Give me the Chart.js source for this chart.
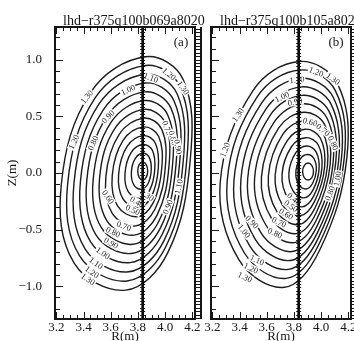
<!DOCTYPE html>
<html>
<head>
<meta charset="utf-8">
<script src="https://cdn.jsdelivr.net/npm/chart.js@4.4.1/dist/chart.umd.min.js"></script>
<style>
  html, body { margin: 0; padding: 0; background: #fff; }
  #wrap { position: relative; width: 354px; height: 341px; overflow: hidden; }
  #wrap canvas { position: absolute; left: 0; top: 0; }
</style>
</head>
<body>
<div id="wrap">
  <canvas id="panelA" width="354" height="341"></canvas>
  <canvas id="panelB" width="354" height="341"></canvas>
</div>
<script>
// contour levels and axis ticks
var levels = [0.1, 0.2, 0.3, 0.4, 0.5, 0.6, 0.7, 0.8, 0.9, 1.0, 1.1, 1.2, 1.3];
var rTicks = [3.2, 3.4, 3.6, 3.8, 4.0, 4.2];
var zTicks = [-1.0, -0.5, 0.0, 0.5, 1.0];
var axisLineR = 3.835;   // thick vertical line, both panels

// points, in this order:
// top, upper-right, right, lower-right, bottom, lower-left, left, upper-left
var ringsA_R = [
  [3.835, 3.861, 3.872, 3.861, 3.835, 3.809, 3.799, 3.809],
  [3.837, 3.884, 3.898, 3.874, 3.825, 3.769, 3.752, 3.780],
  [3.839, 3.907, 3.924, 3.887, 3.814, 3.729, 3.705, 3.750],
  [3.841, 3.929, 3.950, 3.900, 3.804, 3.690, 3.658, 3.721],
  [3.842, 3.952, 3.976, 3.913, 3.794, 3.650, 3.611, 3.691],
  [3.844, 3.975, 4.002, 3.926, 3.783, 3.610, 3.564, 3.662],
  [3.846, 3.998, 4.029, 3.940, 3.773, 3.570, 3.518, 3.632],
  [3.848, 4.020, 4.055, 3.953, 3.763, 3.530, 3.471, 3.603],
  [3.850, 4.043, 4.081, 3.966, 3.752, 3.490, 3.424, 3.573],
  [3.852, 4.066, 4.107, 3.979, 3.742, 3.451, 3.377, 3.544],
  [3.853, 4.089, 4.133, 3.992, 3.732, 3.411, 3.330, 3.514],
  [3.855, 4.111, 4.159, 4.005, 3.721, 3.371, 3.283, 3.485],
  [3.857, 4.134, 4.185, 4.018, 3.711, 3.331, 3.236, 3.455]
];
var ringsA_Z = [
  [0.097, 0.074, 0.018, -0.039, -0.062, -0.039, 0.018, 0.074],
  [0.175, 0.136, 0.026, -0.095, -0.143, -0.102, 0.008, 0.128],
  [0.252, 0.199, 0.034, -0.151, -0.224, -0.165, -0.003, 0.181],
  [0.330, 0.261, 0.042, -0.206, -0.305, -0.228, -0.013, 0.235],
  [0.407, 0.324, 0.050, -0.262, -0.386, -0.291, -0.023, 0.288],
  [0.485, 0.386, 0.058, -0.318, -0.467, -0.354, -0.034, 0.342],
  [0.562, 0.449, 0.067, -0.374, -0.549, -0.418, -0.044, 0.396],
  [0.640, 0.511, 0.075, -0.429, -0.630, -0.481, -0.054, 0.449],
  [0.717, 0.573, 0.083, -0.485, -0.711, -0.544, -0.065, 0.503],
  [0.795, 0.636, 0.091, -0.541, -0.792, -0.607, -0.075, 0.556],
  [0.872, 0.698, 0.099, -0.597, -0.873, -0.670, -0.085, 0.610],
  [0.950, 0.761, 0.107, -0.652, -0.954, -0.733, -0.096, 0.663],
  [1.027, 0.823, 0.115, -0.708, -1.035, -0.796, -0.106, 0.717]
];
var ringsB_R = [
  [3.904, 3.932, 3.944, 3.932, 3.904, 3.876, 3.864, 3.876],
  [3.899, 3.948, 3.965, 3.937, 3.890, 3.836, 3.814, 3.845],
  [3.893, 3.963, 3.985, 3.942, 3.875, 3.796, 3.763, 3.813],
  [3.888, 3.979, 4.006, 3.947, 3.861, 3.756, 3.713, 3.782],
  [3.883, 3.995, 4.026, 3.951, 3.846, 3.716, 3.662, 3.751],
  [3.877, 4.010, 4.047, 3.956, 3.832, 3.676, 3.612, 3.719],
  [3.872, 4.026, 4.067, 3.961, 3.817, 3.637, 3.561, 3.688],
  [3.867, 4.042, 4.088, 3.966, 3.803, 3.597, 3.511, 3.657],
  [3.861, 4.057, 4.108, 3.971, 3.788, 3.557, 3.460, 3.625],
  [3.856, 4.073, 4.129, 3.976, 3.774, 3.517, 3.410, 3.594],
  [3.851, 4.089, 4.149, 3.980, 3.759, 3.477, 3.359, 3.563],
  [3.845, 4.104, 4.170, 3.985, 3.745, 3.437, 3.309, 3.531],
  [3.840, 4.120, 4.190, 3.990, 3.730, 3.397, 3.258, 3.500]
];
var ringsB_Z = [
  [0.088, 0.066, 0.013, -0.040, -0.062, -0.040, 0.013, 0.066],
  [0.163, 0.126, 0.024, -0.093, -0.141, -0.101, 0.005, 0.121],
  [0.238, 0.187, 0.034, -0.147, -0.220, -0.162, -0.003, 0.177],
  [0.312, 0.247, 0.045, -0.200, -0.299, -0.223, -0.010, 0.232],
  [0.387, 0.307, 0.055, -0.253, -0.378, -0.283, -0.018, 0.287],
  [0.462, 0.368, 0.066, -0.307, -0.457, -0.344, -0.026, 0.343],
  [0.537, 0.428, 0.077, -0.360, -0.536, -0.405, -0.034, 0.398],
  [0.611, 0.488, 0.087, -0.413, -0.615, -0.466, -0.041, 0.453],
  [0.686, 0.549, 0.098, -0.467, -0.694, -0.527, -0.049, 0.509],
  [0.761, 0.609, 0.108, -0.520, -0.773, -0.588, -0.057, 0.564],
  [0.836, 0.669, 0.119, -0.573, -0.852, -0.648, -0.065, 0.619],
  [0.910, 0.730, 0.129, -0.627, -0.931, -0.709, -0.072, 0.675],
  [0.985, 0.790, 0.140, -0.680, -1.010, -0.770, -0.080, 0.730]
];

// contour labels: level, R, Z, text angle (deg)
var labelsA = [
  [1.3, 3.425, 0.673, -50], [1.2, 3.330, 0.274, -65], [1.0, 3.727, 0.735, -25],
  [0.9, 3.580, 0.496, -45], [0.8, 3.470, 0.265, -65], [1.1, 3.895, 0.841, 20],
  [1.2, 4.029, 0.876, 40], [1.3, 4.132, 0.752, 55],
  [0.7, 4.014, 0.398, 70], [0.8, 4.058, 0.310, 75], [0.9, 4.095, 0.230, 80],
  [0.6, 3.580, -0.212, 55], [0.5, 3.763, -0.327, 25], [0.4, 3.793, -0.257, 30],
  [0.3, 3.866, -0.195, 35], [0.7, 3.698, -0.469, 20], [0.8, 3.617, -0.522, 25],
  [0.9, 3.603, -0.619, 30], [1.0, 3.543, -0.708, 35], [1.1, 3.492, -0.796, 35],
  [1.2, 3.462, -0.876, 35], [1.3, 3.433, -0.938, 35],
  [0.9, 4.020, -0.300, -68], [1.1, 4.100, -0.120, -78]
];
var labelsB = [
  [1.3, 3.389, 0.513, -55], [1.2, 3.293, 0.204, -70], [1.0, 3.712, 0.673, -25],
  [0.9, 3.808, 0.628, -10], [1.1, 3.823, 0.823, -5], [1.2, 3.963, 0.894, 20],
  [1.3, 4.088, 0.832, 35], [0.6, 3.919, 0.451, 15], [0.7, 4.014, 0.381, 40],
  [0.8, 4.088, 0.265, 65], [0.9, 3.492, -0.434, 45], [1.0, 3.433, -0.513, 50],
  [0.7, 3.691, -0.434, 25], [0.8, 3.661, -0.531, 25], [0.6, 3.742, -0.363, 30],
  [0.5, 3.779, -0.292, 35], [0.4, 3.801, -0.230, 40], [1.1, 3.529, -0.770, 25],
  [1.2, 3.484, -0.841, 25], [1.3, 3.440, -0.920, 25],
  [0.8, 4.066, -0.180, -70], [1.0, 4.120, -0.050, -80]
];

var R_MIN = 3.19, R_MAX = 4.22, Z_MIN = -1.29, Z_MAX = 1.29;
var SERIF = '"Liberation Serif", "Times New Roman", serif';
var INK = '#161616';

// closed loop: repeat neighbours so every visible piece gets a smooth spline
var LOOP = [7, 0, 1, 2, 3, 4, 5, 6, 7, 0, 1];

function ringDatasets(ringsR, ringsZ) {
  var sets = ringsR.map(function (rr, k) {
    var pts = LOOP.map(function (j) { return {x: rr[j], y: ringsZ[k][j]}; });
    var last = pts.length - 1;
    return {
      label: levels[k].toFixed(2),
      data: pts,
      showLine: true,
      borderColor: '#1c1c1c',
      borderWidth: 1.4,
      pointRadius: 0,
      tension: 0.38,
      order: 1,
      segment: {
        borderColor: function (ctx) {
          return (ctx.p0DataIndex === 0 || ctx.p1DataIndex === last) ? 'rgba(0,0,0,0)' : undefined;
        }
      }
    };
  });
  sets.push({
    label: 'R axis',
    data: [{x: axisLineR, y: Z_MIN}, {x: axisLineR, y: Z_MAX}],
    showLine: true,
    borderColor: '#000',
    borderWidth: 2.6,
    pointRadius: 0,
    order: 0
  });
  return sets;
}

function panelDeco(cfg) {
  return {
    id: 'deco' + cfg.tag,
    beforeDatasetDraw: function (chart, args) {
      if (args.index !== levels.length) return;
      //contour labels go under the vertical line
      var ctx = chart.ctx, xs = chart.scales.x, ys = chart.scales.y, a = chart.chartArea;
      ctx.save();
      ctx.beginPath();
      ctx.rect(a.left, a.top, a.right - a.left, a.bottom - a.top);
      ctx.clip();
      ctx.font = '8.5px ' + SERIF;
      ctx.textAlign = 'center';
      ctx.textBaseline = 'middle';
      cfg.labels.forEach(function (l) {
        var txt = l[0].toFixed(2);
        var w = ctx.measureText(txt).width;
        ctx.save();
        ctx.translate(xs.getPixelForValue(l[1]), ys.getPixelForValue(l[2]));
        ctx.rotate(l[3] * Math.PI / 180);
        ctx.fillStyle = '#fff';
        ctx.fillRect(-w / 2 - 1, -4, w + 2, 8);
        ctx.fillStyle = '#222';
        ctx.fillText(txt, 0, 0.5);
        ctx.restore();
      });
      ctx.restore();
    },
    afterDraw: function (chart) {
      var ctx = chart.ctx, xs = chart.scales.x, ys = chart.scales.y, a = chart.chartArea;
      var i, p, len, vx;
      ctx.save();
      ctx.strokeStyle = INK;
      ctx.lineWidth = 1;
      ctx.beginPath();
      // inward ticks on R axis (bottom and top)
      for (i = 0; i <= 20; i++) {
        p = Math.round(xs.getPixelForValue(3.2 + i * 0.05)) + 0.5;
        len = (i % 4 === 0) ? 7 : 4;
        ctx.moveTo(p, a.bottom); ctx.lineTo(p, a.bottom - len);
        ctx.moveTo(p, a.top); ctx.lineTo(p, a.top + len);
      }
      // inward ticks on Z axis (left)
      for (i = -12; i <= 12; i++) {
        p = Math.round(ys.getPixelForValue(i * 0.1)) + 0.5;
        len = (i % 5 === 0) ? 8 : 5;
        ctx.moveTo(a.left, p); ctx.lineTo(a.left + len, p);
      }
      // ladder on the right edge, notches on the vertical line
      vx = xs.getPixelForValue(axisLineR);
      for (p = a.top + 2; p < a.bottom; p += 3.4) {
        ctx.moveTo(a.right, Math.round(p) + 0.5); ctx.lineTo(a.right + 6, Math.round(p) + 0.5);
        ctx.moveTo(vx - 2.5, Math.round(p) + 0.5); ctx.lineTo(vx + 2.5, Math.round(p) + 0.5);
      }
      ctx.stroke();
      ctx.lineWidth = 2;
      ctx.strokeRect(a.left, a.top, a.right - a.left, a.bottom - a.top);
      ctx.beginPath();
      ctx.moveTo(a.right + 6, a.top); ctx.lineTo(a.right + 6, a.bottom);
      ctx.stroke();
      // title and panel letter
      ctx.fillStyle = INK;
      ctx.font = '14px ' + SERIF;
      ctx.textAlign = 'left';
      ctx.textBaseline = 'alphabetic';
      ctx.fillText(cfg.title, cfg.titleX, 25);
      ctx.font = '13px ' + SERIF;
      ctx.textAlign = 'center';
      ctx.textBaseline = 'middle';
      ctx.fillText(cfg.letter, cfg.letterX, 43);
      ctx.restore();
    }
  };
}

function makePanel(canvasId, cfg) {
  var font = {family: SERIF, size: 13};
  return new Chart(document.getElementById(canvasId), {
    type: 'scatter',
    data: {datasets: ringDatasets(cfg.ringsR, cfg.ringsZ)},
    plugins: [panelDeco(cfg)],
    options: {
      responsive: false,
      animation: false,
      devicePixelRatio: 1,
      events: [],
      layout: {padding: {left: cfg.padLeft, right: cfg.padRight, top: 27, bottom: 0}},
      plugins: {legend: {display: false}, tooltip: {enabled: false}, title: {display: false}},
      scales: {
        x: {
          type: 'linear', min: R_MIN, max: R_MAX,
          grid: {display: false}, border: {display: false},
          afterBuildTicks: function (s) { s.ticks = rTicks.map(function (v) { return {value: v}; }); },
          afterFit: function (s) { s.height = 22; s.paddingLeft = 0; s.paddingRight = 0; },
          ticks: {font: font, color: INK, padding: -7, maxRotation: 0, autoSkip: false,
                  callback: function (v) { return v.toFixed(1); }},
          title: {display: true, text: 'R(m)', font: font, color: INK, padding: {top: 0, bottom: -3}}
        },
        y: {
          type: 'linear', min: Z_MIN, max: Z_MAX,
          grid: {display: false}, border: {display: false},
          afterBuildTicks: function (s) { s.ticks = zTicks.map(function (v) { return {value: v}; }); },
          afterFit: function (s) { s.width = cfg.yAxisWidth; s.paddingTop = 0; s.paddingBottom = 0; },
          ticks: {display: cfg.showZ, font: font, color: INK, padding: 5, autoSkip: false,
                  callback: function (v) { return (v < 0 ? '\u2212' : '') + Math.abs(v).toFixed(1); }},
          title: {display: cfg.showZ, text: 'Z(m)', font: font, color: INK, padding: {top: 5, bottom: 0}}
        }
      }
    }
  });
}

makePanel('panelA', {
  tag: 'A', ringsR: ringsA_R, ringsZ: ringsA_Z, labels: labelsA,
  title: 'lhd\u2212r375q100b069a8020', titleX: 63, letter: '(a)', letterX: 181,
  padLeft: 0, padRight: 159, yAxisWidth: 55, showZ: true
});
makePanel('panelB', {
  tag: 'B', ringsR: ringsB_R, ringsZ: ringsB_Z, labels: labelsB,
  title: 'lhd\u2212r375q100b105a8020', titleX: 220, letter: '(b)', letterX: 336,
  padLeft: 211, padRight: 3, yAxisWidth: 0, showZ: false
});
</script>
</body>
</html>
